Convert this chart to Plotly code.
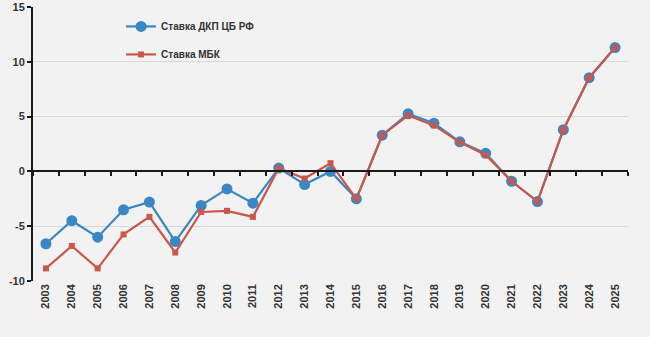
import plotly.graph_objects as go

years = [str(y) for y in range(2003, 2026)]
dkp = [-6.6, -4.5, -6.0, -3.5, -2.8, -6.4, -3.1, -1.6, -2.9, 0.3, -1.2, 0.0,
       -2.5, 3.3, 5.25, 4.4, 2.7, 1.65, -0.9, -2.75, 3.8, 8.55, 11.3]
mbk = [-8.85, -6.8, -8.85, -5.75, -4.15, -7.4, -3.7, -3.6, -4.15, 0.3, -0.65, 0.75,
       -2.5, 3.3, 5.1, 4.2, 2.65, 1.5, -0.9, -2.75, 3.8, 8.55, 11.3]
yticks = [-10, -5, 0, 5, 10, 15]

font_family = "Liberation Sans, Arial, sans-serif"
blue = "#3b87c6"
red = "#c9574a"

fig = go.Figure()
fig.add_trace(go.Scatter(x=years, y=dkp, name="<b>Ставка ДКП ЦБ РФ</b>", mode="lines+markers",
                         line=dict(color=blue, width=2.2),
                         marker=dict(symbol="circle", size=11, color=blue),
                         legendgroup="a"))
fig.add_trace(go.Scatter(x=years, y=mbk, name="<b>Ставка МБК</b>", mode="lines+markers",
                         line=dict(color=red, width=2.2),
                         marker=dict(symbol="square", size=6, color=red),
                         legendgroup="b"))
# invisible trace to carry the zero-line axis
fig.add_trace(go.Scatter(x=years, y=[0] * len(years), xaxis="x2", mode="lines",
                         line=dict(width=0), showlegend=False, hoverinfo="skip", opacity=0))

ymin, ymax = -10, 15
fig.update_layout(
    width=650, height=337,
    margin=dict(l=33, r=22, t=7, b=56),
    paper_bgcolor="#f2f2f2", plot_bgcolor="#f2f2f2",
    font=dict(family=font_family, color="#333333", size=10),
    showlegend=True,
    legend=dict(x=0.148, y=0.982, xanchor="left", yanchor="top",
                bgcolor="rgba(0,0,0,0)", font=dict(size=10, color="#333333"),
                traceorder="grouped", tracegroupgap=9, itemwidth=30),
    xaxis=dict(type="category", categoryorder="array", categoryarray=years,
               showgrid=False, showline=False, ticks="", tickangle=-90,
               tickfont=dict(size=11, color="#333333"), automargin=False,
               tickprefix="<b>", ticksuffix="</b>", range=[-0.5, len(years) - 0.5]),
    xaxis2=dict(type="category", categoryorder="array", categoryarray=years,
                overlaying="x", matches="x", anchor="free",
                position=(0 - ymin) / (ymax - ymin),
                showline=True, linecolor="#1a1a1a", linewidth=2,
                ticks="outside", tickson="boundaries", ticklen=4, tickwidth=1.5,
                tickcolor="#1a1a1a", showticklabels=False, showgrid=False),
    yaxis=dict(range=[ymin, ymax], tickvals=yticks, ticktext=[f"<b>{v}</b>" for v in yticks],
               showgrid=True, gridcolor="#d9d9d9", gridwidth=1, zeroline=False,
               showline=True, linecolor="#1a1a1a", linewidth=2, automargin=False,
               ticks="outside", ticklen=4, tickwidth=1.5, tickcolor="#1a1a1a",
               tickfont=dict(size=11, color="#333333")),
)

fig.write_html("out.html")
